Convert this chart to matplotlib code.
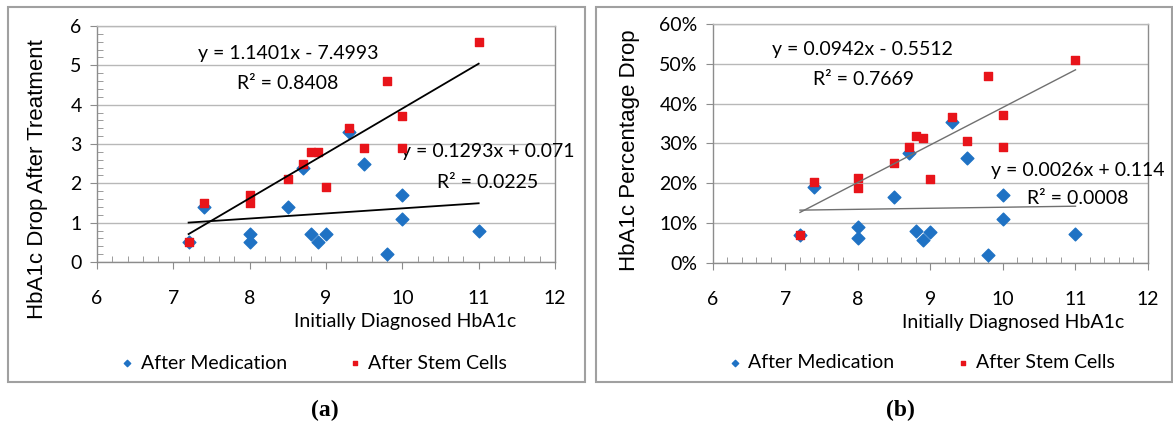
import matplotlib
matplotlib.use("Agg")
import matplotlib.pyplot as plt
import numpy as np
from matplotlib.patches import Rectangle
from matplotlib.ticker import MultipleLocator, PercentFormatter

# initially diagnosed HbA1c (same patients in both panels)
hba1c = [7.2, 7.4, 8, 8, 8.5, 8.7, 8.8, 8.9, 9, 9.3, 9.5, 9.8, 10, 10, 11]

# panel (a): absolute HbA1c drop
drop_med = [0.5, 1.4, 0.7, 0.5, 1.4, 2.4, 0.7, 0.5, 0.7, 3.3, 2.5, 0.2, 1.7, 1.1, 0.8]
drop_stem = [0.5, 1.5, 1.7, 1.5, 2.1, 2.5, 2.8, 2.8, 1.9, 3.4, 2.9, 4.6, 3.7, 2.9, 5.6]

# panel (b): percentage drop
pct_med = [0.07, 0.19, 0.09, 0.063, 0.165, 0.275, 0.08, 0.057, 0.078, 0.355, 0.263, 0.02, 0.17, 0.11, 0.073]
pct_stem = [0.07, 0.203, 0.213, 0.188, 0.25, 0.29, 0.32, 0.315, 0.212, 0.367, 0.307, 0.47, 0.372, 0.29, 0.51]

# trendline coefficients (slope, intercept) as printed on the chart
fit_a_stem = (1.1401, -7.4993)
fit_a_med = (0.1293, 0.071)
fit_b_stem = (0.0942, -0.5512)
fit_b_med = (0.0026, 0.114)

BLUE = "#1f72c4"
RED = "#e8141a"
NARROW = ["Lato", "DejaVu Sans"]
FS = 14
EQ = 14

fig = plt.figure(figsize=(11.73, 4.28), dpi=100)

# outer frames of the two panels
for x0, w in [(8, 577), (596, 576)]:
    fig.patches.append(Rectangle((x0 / 1173, 1 - 382 / 428), w / 1173, 375 / 428,
                                 transform=fig.transFigure, fill=False,
                                 edgecolor="#a0a0a0", lw=1.5))

ax_a = fig.add_axes([97 / 1173, 1 - 262 / 428, 458 / 1173, 236 / 428])
ax_b = fig.add_axes([713 / 1173, 1 - 263 / 428, 435 / 1173, 239 / 428])


def style_axes(ax, ymax, ystep, yminor):
    ax.set_xlim(6, 12)
    ax.set_ylim(0, ymax)
    ax.xaxis.set_major_locator(MultipleLocator(1))
    ax.xaxis.set_minor_locator(MultipleLocator(0.2))
    ax.yaxis.set_major_locator(MultipleLocator(ystep))
    if yminor:
        ax.yaxis.set_minor_locator(MultipleLocator(yminor))
    ax.grid(axis="y", color="#b8b8b8", lw=1.0)
    ax.set_axisbelow(True)
    for s in ax.spines.values():
        s.set_color("#8c8c8c")
        s.set_linewidth(1.0)
    ax.spines["top"].set_color("#b8b8b8")
    ax.tick_params(which="major", direction="out", length=5, color="#8c8c8c")
    ax.tick_params(which="minor", direction="in", length=4, color="#8c8c8c")
    ax.tick_params(axis="x", which="major", pad=15)
    ax.tick_params(axis="y", which="major", pad=6)


def font_ticks(ax):
    for lab in ax.get_xticklabels() + ax.get_yticklabels():
        lab.set_fontfamily(NARROW)
        lab.set_fontsize(FS)


def draw_points(ax, med, stem):
    ax.scatter(hba1c, med, marker="D", s=42, color=BLUE, label="After Medication", zorder=3)
    ax.scatter(hba1c, stem, marker="s", s=40, color=RED, label="After Stem Cells", zorder=4)
    return np.array([min(hba1c), max(hba1c)])


# ---- panel (a)
xs = draw_points(ax_a, drop_med, drop_stem)
ax_a.plot(xs, fit_a_stem[0] * xs + fit_a_stem[1], color="black", lw=1.3, zorder=5)
ax_a.plot(xs, fit_a_med[0] * xs + fit_a_med[1], color="black", lw=1.3, zorder=5)
style_axes(ax_a, 6, 1, 0.2)
font_ticks(ax_a)
ax_a.text(8.5, 5.29, "y = 1.1401x - 7.4993", ha="center", va="center", family=NARROW, fontsize=EQ)
ax_a.text(8.5, 4.53, "R² = 0.8408", ha="center", va="center", family=NARROW, fontsize=EQ)
ax_a.text(11.12, 2.80, "y = 0.1293x + 0.071", ha="center", va="center", family=NARROW, fontsize=EQ)
ax_a.text(11.12, 2.03, "R² = 0.0225", ha="center", va="center", family=NARROW, fontsize=EQ)
ax_a.set_xlabel("Initially Diagnosed HbA1c", family=NARROW, fontsize=FS, va="center")
ax_a.xaxis.set_label_coords(0.672, -0.254)
ax_a.set_ylabel("HbA1c Drop After Treatment", family="Liberation Sans", fontsize=16, va="center")
ax_a.yaxis.set_label_coords(-0.131, 0.352)
ax_a.legend(loc="center", bbox_to_anchor=(0.47, -0.428), ncol=2, frameon=False,
            prop={"family": NARROW, "size": FS}, markerscale=0.5,
            handletextpad=0.2, columnspacing=3.0, handlelength=1.0)

# ---- panel (b)
xs = draw_points(ax_b, pct_med, pct_stem)
ax_b.plot(xs, fit_b_stem[0] * xs + fit_b_stem[1], color="#707070", lw=1.0, zorder=5)
ax_b.plot(xs, fit_b_med[0] * xs + fit_b_med[1], color="#707070", lw=1.0, zorder=5)
style_axes(ax_b, 0.6, 0.1, None)
ax_b.yaxis.set_major_formatter(PercentFormatter(1.0, decimals=0))
font_ticks(ax_b)
ax_b.text(8.06, 0.535, "y = 0.0942x - 0.5512", ha="center", va="center", family=NARROW, fontsize=EQ)
ax_b.text(8.07, 0.46, "R² = 0.7669", ha="center", va="center", family=NARROW, fontsize=EQ)
ax_b.text(11.03, 0.233, "y = 0.0026x + 0.114", ha="center", va="center", family=NARROW, fontsize=EQ)
ax_b.text(11.03, 0.163, "R² = 0.0008", ha="center", va="center", family=NARROW, fontsize=EQ)
ax_b.set_xlabel("Initially Diagnosed HbA1c", family=NARROW, fontsize=FS, va="center")
ax_b.xaxis.set_label_coords(0.69, -0.247)
ax_b.set_ylabel("HbA1c Percentage Drop", family="Liberation Sans", fontsize=16, va="center")
ax_b.yaxis.set_label_coords(-0.191, 0.473)
ax_b.legend(loc="center", bbox_to_anchor=(0.476, -0.418), ncol=2, frameon=False,
            prop={"family": NARROW, "size": FS}, markerscale=0.5,
            handletextpad=0.2, columnspacing=3.0, handlelength=1.0)

# captions
fig.text(325 / 1173, 1 - 410 / 428, "(a)", ha="center", va="center",
         family="Liberation Serif", weight="bold", fontsize=17)
fig.text(900 / 1173, 1 - 410 / 428, "(b)", ha="center", va="center",
         family="Liberation Serif", weight="bold", fontsize=17)

fig.savefig("out.png", dpi=100)
